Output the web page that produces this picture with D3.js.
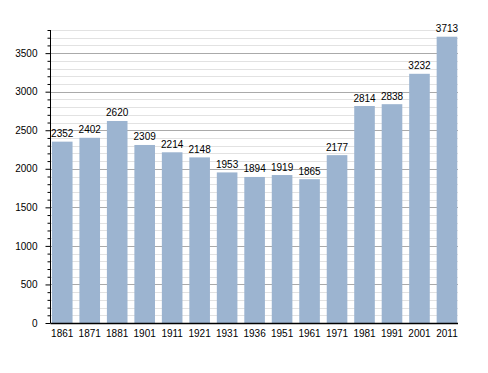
<!DOCTYPE html>
<html>
<head>
<meta charset="utf-8">
<script src="https://cdn.jsdelivr.net/npm/d3@7"></script>
<style>
  body { margin: 0; background: #fff; }
  svg text { font-family: "Liberation Sans", Arial, sans-serif; font-size: 10px; fill: #000; }
</style>
</head>
<body>
<div id="chart"></div>
<script>
var years = ["1861", "1871", "1881", "1901", "1911", "1921", "1931", "1936",
             "1951", "1961", "1971", "1981", "1991", "2001", "2011"];
var population = [2352, 2402, 2620, 2309, 2214, 2148, 1953, 1894,
                  1919, 1865, 2177, 2814, 2838, 3232, 3713];
var yTicks = [0, 500, 1000, 1500, 2000, 2500, 3000, 3500];

var svgWidth = 488, svgHeight = 373,
    plotLeft = 50.5, plotRight = 458, plotTop = 30, plotBottom = 323;

var y = d3.scaleLinear()
    .domain([0, 3800])
    .range([plotBottom, plotTop]);

var x = d3.scaleBand()
    .domain(years)
    .range([48.5, 460.7])
    .paddingInner(0.25)
    .paddingOuter(0.125);

var svg = d3.select('#chart')
    .append('svg')
      .attr('width', svgWidth)
      .attr('height', svgHeight);

svg.append('rect')
    .attr('width', svgWidth)
    .attr('height', svgHeight)
    .attr('fill', '#fff');

// grid, minor every 100 and major every 500
var gridVals = d3.range(100, 3801, 100);
svg.append('g').selectAll('line')
    .data(gridVals)
    .enter().append('line')
      .attr('x1', plotLeft)
      .attr('x2', plotRight)
      .attr('y1', function (d) { return Math.round(y(d)) + 0.5; })
      .attr('y2', function (d) { return Math.round(y(d)) + 0.5; })
      .attr('stroke', function (d) { return d % 500 === 0 ? '#aaaaaa' : '#e2e2e2'; })
      .attr('stroke-width', 1);

// bars
svg.append('g').selectAll('rect')
    .data(population)
    .enter().append('rect')
      .attr('x', function (d, i) { return x(years[i]); })
      .attr('width', x.bandwidth())
      .attr('y', function (d) { return y(d); })
      .attr('height', function (d) { return plotBottom - y(d); })
      .attr('fill', '#9cb4d0');

// value labels
svg.append('g').selectAll('text')
    .data(population)
    .enter().append('text')
      .attr('x', function (d, i) { return x(years[i]) + x.bandwidth() / 2; })
      .attr('y', function (d) { return y(d) - 4.5; })
      .attr('text-anchor', 'middle')
      .text(function (d) { return d; });

// y axis with minor ticks
var yAxis = d3.axisLeft(y)
    .tickValues(gridVals.concat([0]))
    .tickSize(3)
    .tickFormat(function (d) { return yTicks.indexOf(d) >= 0 ? d : ''; })
    .tickPadding(12);

var ya = svg.append('g')
    .attr('transform', 'translate(' + plotLeft + ',0)')
    .call(yAxis);
ya.select('.domain').attr('stroke', '#000').attr('d', 'M0,' + plotTop + 'V' + plotBottom);
ya.selectAll('.tick line')
    .attr('x2', function (d) { return d % 500 === 0 ? -5 : -3; })
    .attr('stroke', '#000');
ya.selectAll('.tick text')
    .attr('x', -13)
    .style('font-size', '10px')
    .style('font-family', '"Liberation Sans", Arial, sans-serif');

// x baseline and labels
svg.append('line')
    .attr('x1', plotLeft)
    .attr('x2', plotRight)
    .attr('y1', plotBottom + 0.5)
    .attr('y2', plotBottom + 0.5)
    .attr('stroke', '#000')
    .attr('stroke-width', 1.5);

svg.append('g').selectAll('text')
    .data(years)
    .enter().append('text')
      .attr('x', function (d) { return x(d) + x.bandwidth() / 2; })
      .attr('y', plotBottom + 13.5)
      .attr('text-anchor', 'middle')
      .text(function (d) { return d; });
</script>
</body>
</html>
